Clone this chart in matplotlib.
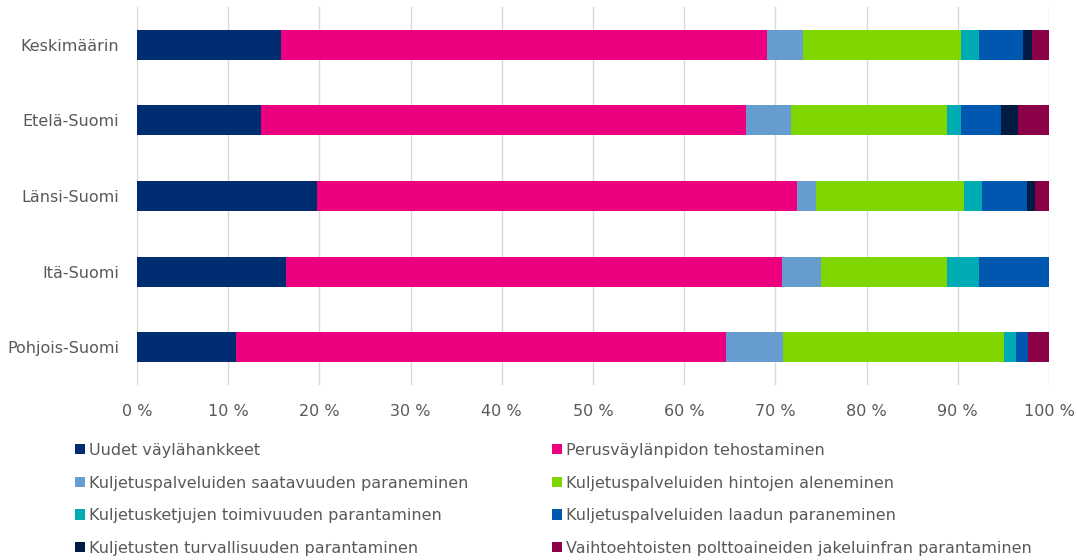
import matplotlib.pyplot as plt
from matplotlib.patches import Patch
import numpy as np

regions = ["Keskimäärin", "Etelä-Suomi", "Länsi-Suomi", "Itä-Suomi", "Pohjois-Suomi"]

series_names = [
    "Uudet väylähankkeet",
    "Perusväylänpidon tehostaminen",
    "Kuljetuspalveluiden saatavuuden paraneminen",
    "Kuljetuspalveluiden hintojen aleneminen",
    "Kuljetusketjujen toimivuuden parantaminen",
    "Kuljetuspalveluiden laadun paraneminen",
    "Kuljetusten turvallisuuden parantaminen",
    "Vaihtoehtoisten polttoaineiden jakeluinfran parantaminen",
]

# shares (%) per region, one list per series
uudet = [15.8, 13.6, 19.7, 16.3, 10.9]
perus = [53.3, 53.2, 52.7, 54.4, 53.7]
saatavuus = [3.9, 4.9, 2.0, 4.3, 6.2]
hinnat = [17.3, 17.1, 16.3, 13.8, 24.3]
ketjut = [2.0, 1.6, 2.0, 3.5, 1.3]
laatu = [4.8, 4.3, 4.9, 7.7, 1.3]
turvallisuus = [1.0, 1.9, 0.9, 0.0, 0.0]
vaihtoehto = [1.9, 3.4, 1.5, 0.0, 2.3]

colors = ["#002D72", "#EC0080", "#669CD0", "#80D700",
          "#00ACB4", "#0057B0", "#001C44", "#8B0047"]

text_color = "#595959"
fs = 11.5

series = [uudet, perus, saatavuus, hinnat, ketjut, laatu, turvallisuus, vaihtoehto]

fig = plt.figure(figsize=(10.77, 5.6), dpi=100)
ax = fig.add_axes([137 / 1077, 1 - 385 / 560, (1049 - 137) / 1077, (385 - 7) / 560])

y = np.arange(len(regions))
left = np.zeros(len(regions))
for vals, col, name in zip(series, colors, series_names):
    vals = np.array(vals)
    ax.barh(y, vals, left=left, height=0.395, color=col, linewidth=0, label=name, zorder=3)
    left += vals

ax.set_xlim(0, 100)
ax.set_ylim(4.5, -0.5)
ax.set_yticks(y)
ax.set_yticklabels(regions)
ax.set_xticks(np.arange(0, 101, 10))
ax.set_xticklabels([f"{v} %" for v in range(0, 101, 10)])
ax.tick_params(axis="both", length=0, labelsize=fs, labelcolor=text_color)
ax.tick_params(axis="x", pad=14)
ax.tick_params(axis="y", pad=13)
ax.grid(axis="x", color="#d9d9d9", linewidth=1, zorder=0)
for s in ax.spines.values():
    s.set_visible(False)

# legend in two columns, row-major order like the source
handles = [Patch(facecolor=c, edgecolor="none") for c in colors]
for col_idx, x0 in enumerate([75 / 1077, 552 / 1077]):
    idx = list(range(col_idx, 8, 2))
    fig.legend([handles[i] for i in idx], [series_names[i] for i in idx],
               loc="upper left", bbox_to_anchor=(x0, 1 - 443 / 560),
               frameon=False, fontsize=fs, labelcolor=text_color,
               handlelength=0.6, handleheight=0.6, handletextpad=0.3,
               labelspacing=1.1, borderaxespad=0, borderpad=0)

fig.savefig("out.png", dpi=100)
